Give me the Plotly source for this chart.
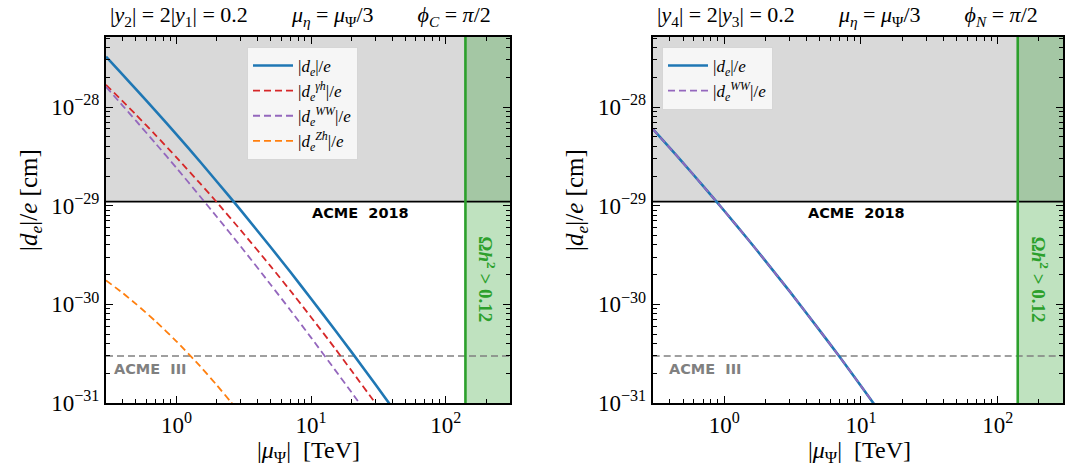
import numpy as np
import plotly.graph_objects as go

# ---------------- data ----------------
mu_left = [0.3, 0.4, 0.5, 0.7, 1, 1.5, 2, 3, 5, 7, 10, 15, 20, 30, 40]
de_total_left = [3.24e-28, 2.12e-28, 1.52e-28, 9.16e-29, 5.28e-29, 2.79e-29, 1.75e-29,
                 9.02e-30, 3.81e-30, 2.14e-30, 1.14e-30, 5.53e-31, 3.28e-31, 1.55e-31, 9.0e-32]
de_gh_left = [1.68e-28, 1.14e-28, 8.38e-29, 5.20e-29, 3.09e-29, 1.68e-29, 1.08e-29,
              5.65e-30, 2.44e-30, 1.38e-30, 7.41e-31, 3.60e-31, 2.12e-31, 9.97e-32, 5.75e-32]
de_ww_left = [1.60e-28, 1.03e-28, 7.27e-29, 4.28e-29, 2.42e-29, 1.24e-29, 7.69e-30,
              3.87e-30, 1.59e-30, 8.77e-31, 4.60e-31, 2.18e-31, 1.28e-31, 5.9e-32, 3.4e-32]
mu_zh = [0.3, 0.4, 0.5, 0.7, 1, 1.5, 2, 2.5, 3]
de_zh_left = [1.75e-30, 1.30e-30, 1.01e-30, 6.74e-31, 4.22e-31, 2.36e-31, 1.51e-31, 1.05e-31, 7.8e-32]

mu_right = [0.3, 0.4, 0.5, 0.7, 1, 1.5, 2, 3, 5, 7, 10, 14]
de_total_right = [6.0e-29, 3.85e-29, 2.72e-29, 1.59e-29, 8.89e-30, 4.52e-30, 2.76e-30,
                  1.36e-30, 5.42e-31, 2.92e-31, 1.49e-31, 7.8e-32]
de_ww_right = [6.0e-29, 3.85e-29, 2.72e-29, 1.59e-29, 8.89e-30, 4.52e-30, 2.76e-30,
               1.36e-30, 5.42e-31, 2.92e-31, 1.49e-31, 7.8e-32]

acme_2018 = 1.1e-29
acme_3 = 3.0e-31
relic_mu = 140.0
x_lim = [0.3, 300.0]
y_lim = [1e-31, 10 ** -27.29]

y_tick_vals = [1e-31, 1e-30, 1e-29, 1e-28]
y_tick_text = ["10<sup>−31</sup>", "10<sup>−30</sup>", "10<sup>−29</sup>", "10<sup>−28</sup>"]
x_tick_vals = [1, 10, 100]
x_tick_text = ["10<sup>0</sup>", "10<sup>1</sup>", "10<sup>2</sup>"]

# ---------------- styling ----------------
BLUE, RED, PURPLE, ORANGE, GREEN = "#1f77b4", "#d62728", "#9467bd", "#ff7f0e", "#2ca02c"
SERIF = "Liberation Serif"
DASH = "7px,4px"

y_minor = [m * 10.0 ** d for d in range(-31, -27) for m in range(2, 10)]
y_minor = [v for v in y_minor if v < y_lim[1]]
x_minor = [m * 10.0 ** d for d in range(-1, 3) for m in range(2, 10)]
x_minor = [v for v in x_minor if x_lim[0] <= v <= x_lim[1]]

fig = go.Figure()

def line(x, y, color, name, xa, ya, legend, dash=None, width=2.0):
    fig.add_trace(go.Scatter(
        x=x, y=y, mode="lines", name=name, xaxis=xa, yaxis=ya, legend=legend,
        line=dict(color=color, width=width, dash=dash, shape="spline", smoothing=0.6)))

# left panel
line(mu_left, de_total_left, BLUE, "|<i>d</i><sub><i>e</i></sub>|/<i>e</i>", "x", "y", "legend", width=2.6)
line(mu_left, de_gh_left, RED, "|<i>d</i><sub><i>e</i></sub><sup><i>γh</i></sup>|/<i>e</i>", "x", "y", "legend", DASH, 1.8)
line(mu_left, de_ww_left, PURPLE, "|<i>d</i><sub><i>e</i></sub><sup><i>WW</i></sup>|/<i>e</i>", "x", "y", "legend", DASH, 1.8)
line(mu_zh, de_zh_left, ORANGE, "|<i>d</i><sub><i>e</i></sub><sup><i>Zh</i></sup>|/<i>e</i>", "x", "y", "legend", DASH, 1.8)
# right panel
line(mu_right, de_total_right, BLUE, "|<i>d</i><sub><i>e</i></sub>|/<i>e</i>", "x2", "y2", "legend2", width=2.6)
line(mu_right, de_ww_right, PURPLE, "|<i>d</i><sub><i>e</i></sub><sup><i>WW</i></sup>|/<i>e</i>", "x2", "y2", "legend2", DASH, 1.8)

shapes = []
for xr, yr in (("x", "y"), ("x2", "y2")):
    shapes += [
        dict(type="rect", xref=xr + " domain", yref=yr, x0=0, x1=1, y0=acme_2018, y1=y_lim[1],
             fillcolor="#d9d9d9", line=dict(width=0), layer="below"),
        dict(type="rect", xref=xr, yref=yr + " domain", x0=relic_mu, x1=x_lim[1], y0=0, y1=1,
             fillcolor="rgba(44,160,44,0.3)", line=dict(width=0), layer="below"),
        dict(type="line", xref=xr + " domain", yref=yr, x0=0, x1=1, y0=acme_2018, y1=acme_2018,
             line=dict(color="black", width=1.6), layer="below"),
        dict(type="line", xref=xr + " domain", yref=yr, x0=0, x1=1, y0=acme_3, y1=acme_3,
             line=dict(color="#808080", width=1.6, dash="7px,4px"), layer="below"),
        dict(type="line", xref=xr, yref=yr + " domain", x0=relic_mu, x1=relic_mu, y0=0, y1=1,
             line=dict(color=GREEN, width=2.6), layer="below"),
    ]

L = np.log10
annotations = []
acme_text_x = {"x": 23.3, "x2": 9.3}
acme3_text_x = {"x": 0.33, "x2": 0.38}
for xr, yr in (("x", "y"), ("x2", "y2")):
    annotations += [
        dict(xref=xr, yref=yr, x=L(acme_text_x[xr]), y=-29.07, text="<b>ACME  2018</b>",
             xanchor="center", yanchor="middle",
             showarrow=False, font=dict(family="DejaVu Sans", size=14.5, color="black")),
        dict(xref=xr, yref=yr, x=L(acme3_text_x[xr]), y=-30.66, text="<b>ACME  III</b>",
             xanchor="left", yanchor="middle", showarrow=False,
             font=dict(family="DejaVu Sans", size=14.5, color="#808080")),
        dict(xref=xr, yref=yr, x=2.31, y=-29.75, text="<b>Ω<i>h</i><sup>2</sup> &gt; 0.12</b>",
             xanchor="center", yanchor="middle",
             textangle=90, showarrow=False, font=dict(family=SERIF, size=19, color=GREEN)),
    ]

sp = "\u2003\u2003"
title_left = ("|<i>y</i><sub>2</sub>| = 2|<i>y</i><sub>1</sub>| = 0.2" + sp +
              "<i>μ</i><sub><i>η</i></sub> = <i>μ</i><sub>Ψ</sub>/3" + sp +
              "<i>ϕ</i><sub><i>C</i></sub> = <i>π</i>/2")
title_right = ("|<i>y</i><sub>4</sub>| = 2|<i>y</i><sub>3</sub>| = 0.2" + sp +
               "<i>μ</i><sub><i>η</i></sub> = <i>μ</i><sub>Ψ</sub>/3" + sp +
               "<i>ϕ</i><sub><i>N</i></sub> = <i>π</i>/2")
W, H = 1075, 466
ml, mr, mt, mb = 106, 12, 37, 63
pw, ph = W - ml - mr, H - mt - mb
def px(xp):
    return (xp - ml) / pw
def py(yp):
    return (H - mb - yp) / ph

annotations += [
    dict(xref="paper", yref="paper", x=px(300), y=py(16), text=title_left, showarrow=False,
         xanchor="center", yanchor="middle", font=dict(family=SERIF, size=22, color="black")),
    dict(xref="paper", yref="paper", x=px(847), y=py(16), text=title_right, showarrow=False,
         xanchor="center", yanchor="middle", font=dict(family=SERIF, size=22, color="black")),
    dict(xref="paper", yref="paper", x=px(30), y=py(200), text="|<i>d</i><sub><i>e</i></sub>|/<i>e</i> [cm]",
         xanchor="center", yanchor="middle",
         textangle=-90, showarrow=False, font=dict(family=SERIF, size=25, color="black")),
    dict(xref="paper", yref="paper", x=px(576), y=py(200), text="|<i>d</i><sub><i>e</i></sub>|/<i>e</i> [cm]",
         xanchor="center", yanchor="middle",
         textangle=-90, showarrow=False, font=dict(family=SERIF, size=25, color="black")),
    dict(xref="paper", yref="paper", x=px(308), y=py(452), text="|<i>μ</i><sub>Ψ</sub>|  [TeV]",
         xanchor="center", yanchor="middle",
         showarrow=False, font=dict(family=SERIF, size=24, color="black")),
    dict(xref="paper", yref="paper", x=px(859), y=py(452), text="|<i>μ</i><sub>Ψ</sub>|  [TeV]",
         xanchor="center", yanchor="middle",
         showarrow=False, font=dict(family=SERIF, size=24, color="black")),
]

common_axis = dict(type="log", showline=True, linecolor="black", linewidth=2, mirror="allticks",
                   ticks="inside", ticklen=7, tickwidth=1.3, tickcolor="black", showgrid=False,
                   zeroline=False, automargin=False,
                   tickfont=dict(family=SERIF, size=23, color="black"))

xaxis = dict(common_axis, range=[L(x_lim[0]), L(x_lim[1])], tickmode="array",
             tickvals=x_tick_vals, ticktext=x_tick_text,
             minor=dict(ticks="inside", ticklen=4, tickwidth=1, tickcolor="black",
                        tickmode="array", tickvals=x_minor, showgrid=False))
yaxis = dict(common_axis, range=[L(y_lim[0]), L(y_lim[1])], tickmode="array",
             tickvals=y_tick_vals, ticktext=y_tick_text,
             minor=dict(ticks="inside", ticklen=4, tickwidth=1, tickcolor="black",
                        tickmode="array", tickvals=y_minor, showgrid=False))

legend_style = dict(bgcolor="rgba(248,248,248,0.9)", bordercolor="#d6d6d6", borderwidth=1,
                    font=dict(family=SERIF, size=17, color="black"), xanchor="left", yanchor="top",
                    tracegroupgap=0, itemwidth=40)

fig.update_layout(
    width=W, height=H, margin=dict(l=ml, r=mr, t=mt, b=mb, autoexpand=False),
    paper_bgcolor="white", plot_bgcolor="white", showlegend=True,
    xaxis=dict(xaxis, domain=[0, 404 / pw], anchor="y"),
    yaxis=dict(yaxis, domain=[0, 1], anchor="x"),
    xaxis2=dict(xaxis, domain=[546.7 / pw, 1], anchor="y2"),
    yaxis2=dict(yaxis, domain=[0, 1], anchor="x2"),
    legend=dict(legend_style, x=px(247), y=py(47)),
    legend2=dict(legend_style, x=px(662), y=py(47)),
    shapes=shapes, annotations=annotations,
)

fig.write_html("out.html", config={"displayModeBar": False},
               post_script="document.body.style.margin='0px';")
